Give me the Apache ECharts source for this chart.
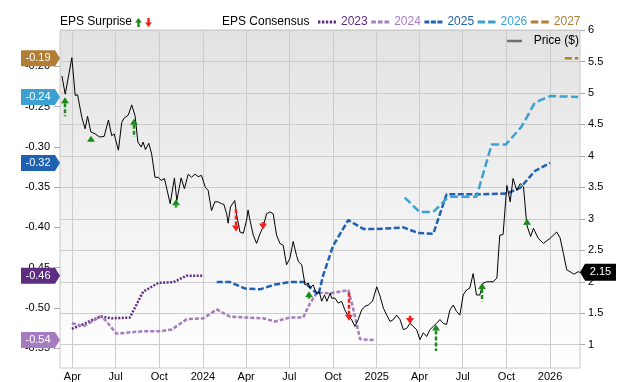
<!DOCTYPE html>
<html><head><meta charset="utf-8">
<script src="https://cdn.jsdelivr.net/npm/echarts@6/dist/echarts.min.js"></script>
<style>html,body{margin:0;padding:0;background:#fff}#chart{width:640px;height:382px}</style>
</head><body><div id="chart"></div>
<script>
// ---------- DATA ----------
const xStart = '2023-03-06';
const xEnd = '2026-03-05';
const xTickDates = ['2023-04-01','2023-07-01','2023-10-01','2024-01-01','2024-04-01','2024-07-01','2024-10-01','2025-01-01','2025-04-01','2025-07-01','2025-10-01','2026-01-01'];
const monthNames = ['Jan','Feb','Mar','Apr','May','Jun','Jul','Aug','Sep','Oct','Nov','Dec'];
const priceTicks = [1,1.5,2,2.5,3,3.5,4,4.5,5,5.5,6];
const epsTicks = [-0.55,-0.50,-0.45,-0.40,-0.35,-0.30,-0.25,-0.20];
const priceRange = [0.63, 6];
const epsRange = [-0.5747, -0.1549];

const priceDates = ['2023-03-10','2023-03-17','2023-03-31','2023-04-07','2023-04-12','2023-04-21','2023-04-28','2023-05-03','2023-05-10','2023-05-19','2023-05-28','2023-06-07','2023-06-16','2023-06-23','2023-06-28','2023-07-07','2023-07-14','2023-07-19','2023-07-28','2023-08-04','2023-08-11','2023-08-17','2023-08-24','2023-08-28','2023-09-02','2023-09-09','2023-09-15','2023-09-22','2023-09-29','2023-10-05','2023-10-12','2023-10-24','2023-11-02','2023-11-07','2023-11-16','2023-11-23','2023-12-01','2023-12-08','2023-12-15','2023-12-22','2023-12-29','2024-01-06','2024-01-12','2024-01-19','2024-01-26','2024-02-02','2024-02-09','2024-02-14','2024-02-20','2024-02-23','2024-02-28','2024-03-08','2024-03-12','2024-03-19','2024-03-26','2024-04-02','2024-04-05','2024-04-09','2024-04-16','2024-04-23','2024-04-30','2024-05-07','2024-05-14','2024-05-21','2024-05-28','2024-06-04','2024-06-11','2024-06-18','2024-06-25','2024-07-02','2024-07-09','2024-07-16','2024-07-20','2024-07-27','2024-08-03','2024-08-10','2024-08-13','2024-08-20','2024-08-24','2024-08-28','2024-09-02','2024-09-07','2024-09-13','2024-09-18','2024-09-25','2024-09-28','2024-10-05','2024-10-12','2024-10-19','2024-10-26','2024-11-02','2024-11-09','2024-11-16','2024-11-23','2024-11-30','2024-12-07','2024-12-14','2024-12-23','2025-01-01','2025-01-08','2025-01-15','2025-01-22','2025-01-29','2025-02-05','2025-02-12','2025-02-19','2025-02-26','2025-03-05','2025-03-12','2025-03-19','2025-03-26','2025-04-02','2025-04-09','2025-04-16','2025-04-23','2025-04-30','2025-05-07','2025-05-14','2025-05-21','2025-05-28','2025-06-04','2025-06-11','2025-06-18','2025-06-25','2025-07-02','2025-07-09','2025-07-16','2025-07-23','2025-07-30','2025-08-06','2025-08-13','2025-08-20','2025-08-27','2025-09-03','2025-09-11','2025-09-17','2025-09-24','2025-10-02','2025-10-09','2025-10-15','2025-10-23','2025-10-30','2025-11-06','2025-11-13','2025-11-21','2025-11-27','2025-12-07','2025-12-18','2026-01-01','2026-01-15','2026-01-22','2026-01-29','2026-02-05','2026-02-12','2026-02-20','2026-03-01','2026-03-05'];
const priceValues = [5.27,4.98,5.56,4.96,4.97,4.61,4.43,4.63,4.38,4.35,4.30,4.31,4.57,4.32,4.35,4.09,4.53,4.60,4.65,4.81,4.64,4.22,4.14,4.22,4.10,4.20,4.03,3.66,3.66,3.61,3.64,3.24,3.65,3.29,3.65,3.48,3.71,3.66,3.71,3.67,3.69,3.50,3.45,3.13,3.27,3.27,3.24,3.23,3.08,2.93,3.19,3.29,3.06,2.79,2.77,2.98,3.14,2.98,2.74,2.61,2.76,2.88,3.08,3.11,3.08,2.74,2.61,2.58,2.27,2.37,2.64,2.42,2.32,2.27,1.95,1.98,1.90,1.95,1.87,1.82,1.84,1.69,1.79,1.69,1.82,1.74,1.74,1.66,1.69,1.55,1.45,1.40,1.29,1.40,1.55,1.61,1.63,1.69,1.92,1.77,1.58,1.47,1.37,1.40,1.47,1.40,1.24,1.26,1.34,1.29,1.24,1.08,1.19,1.13,1.24,1.29,1.34,1.40,1.34,1.32,1.55,1.63,1.53,1.47,1.79,1.87,1.90,2.13,1.79,1.79,1.98,2.00,2.00,2.00,2.06,2.74,2.75,3.53,3.27,3.64,3.45,3.56,3.51,2.90,2.72,2.85,2.69,2.61,2.69,2.79,2.70,2.45,2.19,2.16,2.12,2.16,2.15];

const eps2023Dates = ['2023-03-31','2023-04-17','2023-05-29','2023-06-23','2023-07-31','2023-08-28','2023-09-29','2023-10-31','2023-11-28','2024-01-02'];
const eps2023 = [-0.526,-0.522,-0.511,-0.513,-0.512,-0.480,-0.469,-0.468,-0.460,-0.460];
const eps2024Dates = ['2023-03-31','2023-04-24','2023-06-02','2023-07-03','2023-08-28','2023-10-03','2023-10-27','2023-11-28','2024-01-02','2024-01-30','2024-02-27','2024-04-02','2024-05-07','2024-06-01','2024-07-02','2024-07-30','2024-08-13','2024-08-28','2024-09-25','2024-11-02','2024-11-10','2024-11-27','2024-12-28'];
const eps2024 = [-0.519,-0.523,-0.510,-0.532,-0.529,-0.529,-0.527,-0.514,-0.513,-0.502,-0.511,-0.512,-0.513,-0.517,-0.512,-0.512,-0.495,-0.481,-0.482,-0.478,-0.495,-0.539,-0.540];
const eps2025Dates = ['2024-01-30','2024-02-27','2024-03-30','2024-04-30','2024-06-01','2024-07-02','2024-08-01','2024-08-31','2024-09-10','2024-10-01','2024-11-02','2024-12-04','2025-01-01','2025-02-05','2025-02-26','2025-03-29','2025-04-30','2025-05-28','2025-07-30','2025-10-02','2025-10-30','2025-11-30','2026-01-01'];
const eps2025 = [-0.468,-0.468,-0.476,-0.477,-0.471,-0.468,-0.468,-0.484,-0.460,-0.423,-0.391,-0.402,-0.402,-0.401,-0.400,-0.407,-0.408,-0.359,-0.359,-0.358,-0.351,-0.330,-0.320];
const eps2026Dates = ['2025-03-01','2025-04-01','2025-04-30','2025-06-01','2025-07-30','2025-08-31','2025-09-30','2025-11-02','2025-11-30','2026-01-01','2026-03-01'];
const eps2026 = [-0.363,-0.381,-0.381,-0.362,-0.362,-0.297,-0.297,-0.275,-0.245,-0.237,-0.238];
const eps2027Dates = ['2026-02-01','2026-03-01'];
const eps2027 = [-0.19,-0.19];

const surpriseDates = ['2023-03-17','2023-05-10','2023-08-09','2023-11-05','2024-03-10','2024-05-06','2024-08-11','2024-11-04','2025-03-12','2025-05-06','2025-08-11','2025-11-13'];
const surpriseFrom = [4.63,4.22,4.30,3.18,3.16,2.95,1.73,1.83,1.46,0.90,1.69,2.90];
const surpriseTo   = [4.93,4.32,4.59,3.31,2.80,2.83,1.85,1.38,1.33,1.32,1.98,3.00];
const surpriseKind = ['beat','beat','beat','beat','miss','miss','beat','miss','miss','beat','beat','beat'];

// ---------- STYLE ----------
const FONT = '"Liberation Sans", Arial, Helvetica, sans-serif';
const GREEN = '#1b8a1b', RED = '#f21d1d';
const yearSpecs = [
  {name:'2023', dates:eps2023Dates, values:eps2023, color:'#5c2d80', dash:[2,1.5],
   icon:'path://M0,0h2.4v3h-2.4z M3.9,0h2.4v3h-2.4z M7.8,0h2.4v3h-2.4z M11.7,0h2.4v3h-2.4z M15.6,0h2.4v3h-2.4z'},
  {name:'2024', dates:eps2024Dates, values:eps2024, color:'#a57cbf', dash:[4,2],
   icon:'path://M0,0h4.7v3h-4.7z M6.7,0h4.6v3h-4.6z M13.3,0h4.7v3h-4.7z'},
  {name:'2025', dates:eps2025Dates, values:eps2025, color:'#1f61b3', dash:[6,2.5],
   icon:'path://M0,0h5v3h-5z M6.5,0h5v3h-5z M13,0h5v3h-5z'},
  {name:'2026', dates:eps2026Dates, values:eps2026, color:'#3ca1d1', dash:[8,3.5],
   icon:'path://M0,0h7.5v3h-7.5z M10.5,0h7.5v3h-7.5z'},
  {name:'2027', dates:eps2027Dates, values:eps2027, color:'#b07e34', dash:[7,3],
   icon:'path://M0,0h7.5v3h-7.5z M10.5,0h7.5v3h-7.5z'}
];

function toTime(s){ const p = s.split('-').map(Number); return Date.UTC(p[0], p[1]-1, p[2]); }
const xTickTimes = xTickDates.map(toTime);

function arrowRender(dir){
  return function(params, api){
    const a = api.coord([api.value(0), api.value(1)]);
    const b = api.coord([api.value(0), api.value(2)]);
    const color = dir > 0 ? GREEN : RED;
    const cx = Math.round(a[0]);
    const ty = b[1];
    const hh = 6, hw = 4;
    const headBase = dir > 0 ? ty + hh : ty - hh;
    const children = [{type:'polygon', shape:{points:[[cx, ty],[cx-hw, headBase],[cx+hw, headBase]]}, style:{fill: color}}];
    if ((dir > 0 && a[1] > headBase) || (dir < 0 && a[1] < headBase)) {
      children.push({type:'line', shape:{x1:cx, y1:headBase, x2:cx, y2:a[1]}, style:{stroke: color, lineWidth: 2.5, lineDash:[4,2]}});
    }
    return {type:'group', children};
  };
}

const series = [];
yearSpecs.forEach(s => {
  series.push({
    type:'line', name:s.name, yAxisIndex:0, color:s.color, symbol:'none', showSymbol:false, silent:true, z:3,
    data: s.dates.map((d,i) => [toTime(d), s.values[i]]),
    lineStyle:{color:s.color, width:2.5, type:s.dash, cap:'butt'}
  });
});
series.push({
  type:'line', name:'Price ($)', yAxisIndex:1, color:'#000', symbol:'none', showSymbol:false, silent:true, z:4,
  data: priceDates.map((d,i) => [toTime(d), priceValues[i]]),
  lineStyle:{color:'#000', width:1}
});
['beat','miss'].forEach(kind => {
  const idx = surpriseKind.map((k,i) => k === kind ? i : -1).filter(i => i >= 0);
  series.push({
    type:'custom', name: kind === 'beat' ? 'Beat' : 'Miss', yAxisIndex:1, silent:true, z:6, clip:false,
    itemStyle:{color: kind === 'beat' ? GREEN : RED},
    encode:{x:0, y:[1,2]},
    data: idx.map(i => [toTime(surpriseDates[i]), surpriseFrom[i], surpriseTo[i]]),
    renderItem: arrowRender(kind === 'beat' ? 1 : -1)
  });
});
series.push({
  type:'custom', name:'epsTags', yAxisIndex:0, silent:true, z:10, clip:false,
  encode:{x:0, y:1},
  data: yearSpecs.map((s,i) => [toTime(xStart), s.values[s.values.length-1], i]),
  renderItem: function(params, api){
    const y = api.coord([api.value(0), api.value(1)])[1];
    const r = params.coordSys.x;
    const spec = yearSpecs[api.value(2)];
    const h = 16, w = 39, tip = 5;
    return {type:'group', children:[
      {type:'polygon', shape:{points:[[r-w, y-h/2],[r-tip, y-h/2],[r, y],[r-tip, y+h/2],[r-w, y+h/2]]}, style:{fill: spec.color}},
      {type:'text', style:{text: api.value(1).toFixed(2), x: r-w+(w-tip)/2, y: y, align:'center', verticalAlign:'middle', fill:'#fff', font:'11px ' + FONT}}
    ]};
  }
});
series.push({
  type:'custom', name:'priceTag', yAxisIndex:1, silent:true, z:10, clip:false,
  encode:{x:0, y:1},
  data: [[toTime(priceDates[priceDates.length-1]), priceValues[priceValues.length-1]]],
  renderItem: function(params, api){
    const y = api.coord([api.value(0), api.value(1)])[1];
    const l = params.coordSys.x + params.coordSys.width;
    const h = 17, w = 36, tip = 5;
    return {type:'group', children:[
      {type:'polygon', shape:{points:[[l, y],[l+tip, y-h/2],[l+w, y-h/2],[l+w, y+h/2],[l+tip, y+h/2]]}, style:{fill:'#000'}},
      {type:'text', style:{text: api.value(1).toFixed(2), x: l+tip+(w-tip)/2, y: y, align:'center', verticalAlign:'middle', fill:'#fff', font:'11px ' + FONT}}
    ]};
  }
});

const chart = echarts.init(document.getElementById('chart'), null, {renderer:'canvas'});
chart.setOption({
  animation:false,
  backgroundColor:'#fff',
  textStyle:{fontFamily: FONT},
  title:[
    {text:'EPS Surprise', left:60, top:16, padding:0, textStyle:{fontSize:12, fontWeight:'normal', color:'#000', fontFamily:FONT}},
    {text:'EPS Consensus', left:222, top:16, padding:0, textStyle:{fontSize:12, fontWeight:'normal', color:'#000', fontFamily:FONT}}
  ],
  legend:[
    {left:135, top:18, padding:0, itemWidth:7, itemHeight:9, itemGap:3, selectedMode:false,
     formatter: () => '', itemStyle:{borderWidth:0},
     data:[{name:'Beat', icon:'path://M3.5,0L7,4.5H4.7V9H2.3V4.5H0Z'},{name:'Miss', icon:'path://M2.3,0H4.7V4.5H7L3.5,9L0,4.5H2.3Z'}]},
    {left:318, top:16, padding:0, itemWidth:18, itemHeight:3, itemGap:3.5, selectedMode:false,
     itemStyle:{borderWidth:0},
     textStyle:{fontSize:12, fontFamily:FONT},
     data: yearSpecs.map(s => ({name:s.name, icon:s.icon, textStyle:{color:s.color}}))},
    {left:507, top:35, padding:0, itemWidth:15, itemHeight:2.5, selectedMode:false,
     itemStyle:{borderWidth:0},
     formatter: n => '  ' + n,
     textStyle:{fontSize:12, color:'#000', fontFamily:FONT},
     data:[{name:'Price ($)', icon:'rect', itemStyle:{color:'#707070'}}]}
  ],
  grid:{left:60, right:60, top:30, bottom:12, show:true, borderColor:'#c8c8c8', borderWidth:1,
    backgroundColor:{type:'linear', x:0, y:0, x2:0, y2:1, colorStops:[{offset:0, color:'#e2e2e2'},{offset:1, color:'#ffffff'}]}},
  xAxis:{
    type:'value', min: toTime(xStart), max: toTime(xEnd),
    axisLine:{show:false},
    axisTick:{show:false, customValues: xTickTimes},
    axisLabel:{customValues: xTickTimes, margin:3, fontSize:11, color:'#000', fontFamily:FONT,
      formatter: v => { const d = new Date(v); return d.getUTCMonth() === 0 ? String(d.getUTCFullYear()) : monthNames[d.getUTCMonth()]; }},
    splitLine:{show:true, lineStyle:{color:'#cccccc', width:1}}
  },
  yAxis:[
    {type:'value', position:'left', min: epsRange[0], max: epsRange[1],
     axisLine:{show:false},
     axisTick:{show:true, length:6, customValues: epsTicks, lineStyle:{color:'#aaaaaa'}},
     axisLabel:{customValues: epsTicks, margin:10, fontSize:11, color:'#000', fontFamily:FONT, formatter: v => v.toFixed(2)},
     splitLine:{show:false}},
    {type:'value', position:'right', min: priceRange[0], max: priceRange[1],
     axisLine:{show:false},
     axisTick:{show:true, length:5, customValues: priceTicks, lineStyle:{color:'#aaaaaa'}},
     axisLabel:{customValues: priceTicks, margin:8, fontSize:11, color:'#000', fontFamily:FONT, formatter: v => String(v)},
     splitLine:{show:true, lineStyle:{color:'#cccccc', width:1}}}
  ],
  series: series
});
</script></body></html>
